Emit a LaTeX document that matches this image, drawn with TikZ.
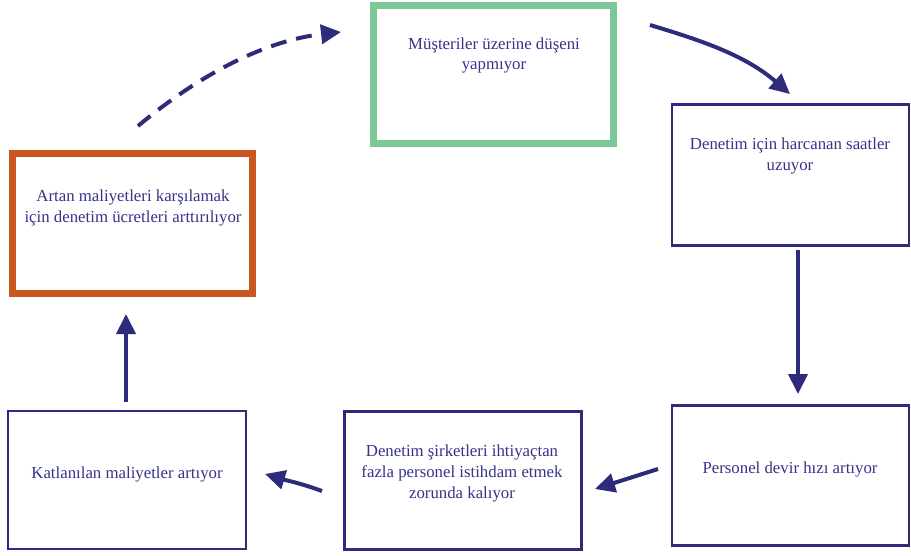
\documentclass[tikz,border=0pt]{standalone}
\usepackage{fontspec}
\setmainfont{Liberation Serif}
\usetikzlibrary{arrows.meta}
\definecolor{navy}{HTML}{2E2B7D}
\definecolor{txtblue}{HTML}{35338A}
\definecolor{boxgreen}{HTML}{7AC895}
\definecolor{boxorange}{HTML}{C8561E}
\tikzset{
  thinbox/.style={draw=navy, line width=2.5pt, rectangle, inner sep=0pt},
  thickbox/.style={rectangle, line width=7pt, inner sep=0pt},
  boxtext/.style={text=txtblue, font=\fontsize{16.8}{20.6}\selectfont, align=center, anchor=north, inner sep=0pt},
  flow/.style={draw=navy, line width=4pt, -{Triangle[length=20pt,width=19pt]}},
}
\begin{document}
\begin{tikzpicture}[x=1pt,y=-1pt]
\useasboundingbox (0,0) rectangle (911,555);
% boxes
\node[thickbox, draw=boxgreen, minimum width=240pt, minimum height=138pt] (b1) at (493.5,74.5) {};
\node[thinbox, minimum width=237pt, minimum height=141pt] (b2) at (790.5,175) {};
\node[thinbox, minimum width=237pt, minimum height=140pt] (b3) at (790.5,475.5) {};
\node[thinbox, minimum width=237pt, minimum height=138pt] (b4) at (463,480.5) {};
\node[thinbox, minimum width=238pt, minimum height=138pt] (b5) at (127,480) {};
\node[thickbox, draw=boxorange, minimum width=240pt, minimum height=140pt] (b6) at (132.5,223.5) {};
% texts
\node[boxtext] (t1) at (494,37.5) {Müşteriler üzerine düşeni\\yapmıyor};
\node[boxtext] (t2) at (790,138) {Denetim için harcanan saatler\\uzuyor};
\node[boxtext] (t3) at (790,462) {Personel devir hızı artıyor};
\node[boxtext] (t4) at (462,445) {Denetim şirketleri ihtiyaçtan\\fazla personel istihdam etmek\\zorunda kalıyor};
\node[boxtext] (t5) at (127,467) {Katlanılan maliyetler artıyor};
\node[boxtext] (t6) at (133,190) {Artan maliyetleri karşılamak\\için denetim ücretleri arttırılıyor};
% connector end points
\coordinate (a1s) at (138,126);
\coordinate (a1e) at (341,32);
\coordinate (a2s) at (650,25);
\coordinate (a2e) at (790,94);
\coordinate (a3s) at (798,250);
\coordinate (a3e) at (798,394);
\coordinate (a4s) at (658,469);
\coordinate (a4e) at (595,489);
\coordinate (a5s) at (322,491);
\coordinate (a5e) at (265,474);
\coordinate (a6s) at (126,402);
\coordinate (a6e) at (126,314);
% connectors
\draw[flow, dash pattern=on 16pt off 10pt] (a1s) .. controls (205,70) and (270,40) .. (a1e);
\draw[flow] (a2s) .. controls (700,40) and (745,55) .. (a2e);
\draw[flow] (a3s) -- (a3e);
\draw[flow] (a4s) -- (a4e);
\draw[flow] (a5s) .. controls (300,483) and (285,480) .. (a5e);
\draw[flow] (a6s) -- (a6e);
\end{tikzpicture}
\end{document}
